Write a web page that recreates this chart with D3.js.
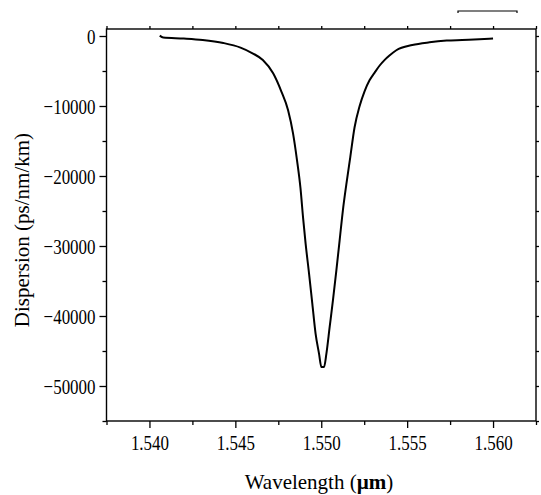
<!DOCTYPE html>
<html>
<head>
<meta charset="utf-8">
<script src="https://cdn.jsdelivr.net/npm/d3@7"></script>
<style>
  body { margin: 0; background: #fff; }
  svg { display: block; font-family: "Liberation Serif", "Times New Roman", serif; }
</style>
</head>
<body>
<div id="chart"></div>
<script>
// wavelength (um) and dispersion (ps/nm/km)
const wavelength = [1.5406, 1.5408, 1.5420, 1.5431, 1.5443, 1.5453, 1.5460, 1.5466, 1.5472, 1.54768,
  1.54807, 1.54836, 1.54859, 1.54879, 1.54894, 1.54909, 1.54929, 1.54948, 1.54967, 1.54987,
  1.55001, 1.55016, 1.55030, 1.55049, 1.55068, 1.55088, 1.55107, 1.55126, 1.55146, 1.55169,
  1.55194, 1.55223, 1.55252, 1.55281, 1.55310, 1.55339, 1.55368, 1.55397, 1.55437, 1.55530,
  1.5563, 1.5573, 1.5582, 1.5592, 1.5600];
const dispersion = [50, -230, -370, -570, -1000, -1660, -2470, -3430, -5330, -7940,
  -10600, -13940, -17760, -21700, -25900, -29660, -33940, -38230, -42510, -45370,
  -47300, -47300, -45370, -41570, -37760, -33470, -29190, -24900, -21200, -17290,
  -13040, -10040, -7900, -6330, -5260, -4250, -3450, -2800, -2040, -1290,
  -900, -660, -570, -470, -370];

const xTicks = [1.540, 1.545, 1.550, 1.555, 1.560];
const xMinor = [1.5375, 1.5425, 1.5475, 1.5525, 1.5575, 1.5625];
const yTicks = [0, -10000, -20000, -30000, -40000, -50000];
const yMinor = [-5000, -15000, -25000, -35000, -45000, -55000];

const width = 541, height = 495;
const plotL = 106.5, plotR = 536, plotT = 29, plotB = 421;
const serif = '"Liberation Serif", "Times New Roman", serif';
const narrow = 0.77; // the original tick font is condensed

const svg = d3.select('#chart').append('svg')
  .attr('width', width)
  .attr('height', height);

const x = d3.scaleLinear().domain([1.5375, 1.5625]).range([plotL, plotR]);
const y = d3.scaleLinear().domain([-55000, 1000]).range([plotB, plotT]);

function styleAxis(g) {
  g.attr('font-family', serif).attr('font-size', 22);
  g.select('.domain').remove();
  g.selectAll('line').attr('stroke', '#000').attr('stroke-width', 1.3);
  g.selectAll('text').attr('fill', '#000');
}

// bottom axis
const gx = svg.append('g').attr('transform', `translate(0,${plotB})`)
  .call(d3.axisBottom(x).tickValues(xTicks).tickFormat(d3.format('.3f')).tickSize(7).tickPadding(6))
  .call(styleAxis);
gx.selectAll('text').attr('transform', `scale(${narrow},1)`);
svg.append('g').attr('transform', `translate(0,${plotB})`)
  .call(d3.axisBottom(x).tickValues(xMinor).tickFormat('').tickSize(4))
  .call(styleAxis);

// top axis, small outward ticks
svg.append('g').attr('transform', `translate(0,${plotT})`)
  .call(d3.axisTop(x).tickValues(xTicks.concat(xMinor)).tickFormat('').tickSize(3))
  .call(styleAxis);

// left axis
const gy = svg.append('g').attr('transform', `translate(${plotL},0)`)
  .call(d3.axisLeft(y).tickValues(yTicks).tickFormat(d3.format('d')).tickSize(7).tickPadding(4))
  .call(styleAxis);
gy.selectAll('text')
  .attr('x', -11 / narrow)
  .attr('transform', `scale(${narrow},1)`);
svg.append('g').attr('transform', `translate(${plotL},0)`)
  .call(d3.axisLeft(y).tickValues(yMinor).tickFormat('').tickSize(4))
  .call(styleAxis);

// right axis
svg.append('g').attr('transform', `translate(${plotR},0)`)
  .call(d3.axisRight(y).tickValues(yTicks.concat(yMinor)).tickFormat('').tickSize(3))
  .call(styleAxis);

// frame
svg.append('rect')
  .attr('x', plotL).attr('y', plotT)
  .attr('width', plotR - plotL).attr('height', plotB - plotT)
  .attr('fill', 'none').attr('stroke', '#000').attr('stroke-width', 1.4);

// curve
const line = d3.line()
  .x((d, i) => x(wavelength[i]))
  .y(d => y(d))
  .curve(d3.curveMonotoneX);

svg.append('path')
  .datum(dispersion)
  .attr('d', line)
  .attr('fill', 'none')
  .attr('stroke', '#000')
  .attr('stroke-width', 2)
  .attr('stroke-linejoin', 'round');

// legend stub at the top right
svg.append('path')
  .attr('d', 'M458,13V11H517V13')
  .attr('fill', 'none')
  .attr('stroke', '#000')
  .attr('stroke-width', 1.2);

// axis titles
const xt = svg.append('text')
  .attr('x', 319).attr('y', 489)
  .attr('text-anchor', 'middle')
  .attr('font-family', serif)
  .attr('font-size', 21)
  .attr('fill', '#000');
xt.append('tspan').text('Wavelength (');
xt.append('tspan').attr('font-weight', 'bold').text('µm');
xt.append('tspan').text(')');

svg.append('text')
  .attr('transform', 'translate(29,230) rotate(-90)')
  .attr('text-anchor', 'middle')
  .attr('font-family', serif)
  .attr('font-size', 21)
  .attr('fill', '#000')
  .text('Dispersion (ps/nm/km)');
</script>
</body>
</html>
